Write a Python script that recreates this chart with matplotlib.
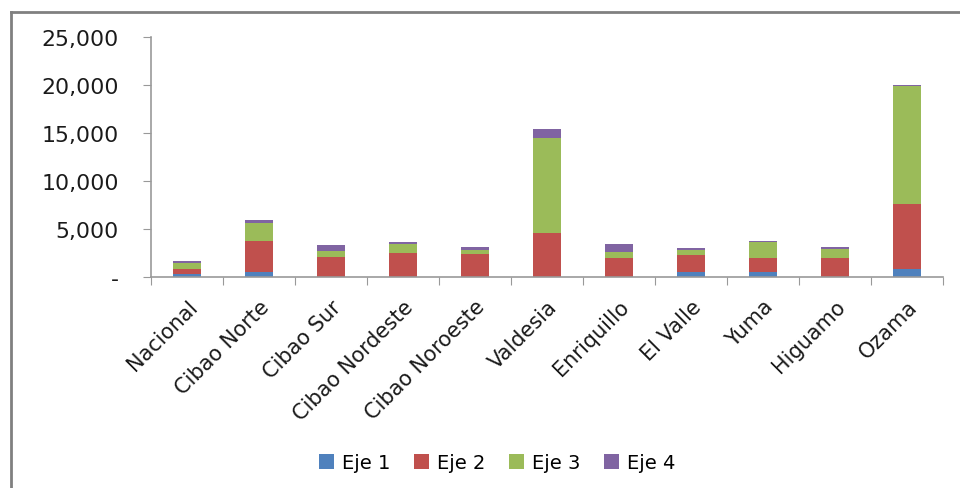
import matplotlib
matplotlib.use("Agg")
import matplotlib.pyplot as plt
from matplotlib.lines import Line2D
from matplotlib.ticker import FuncFormatter, FixedLocator
from matplotlib.transforms import ScaledTranslation
import numpy as np

categories = ["Nacional", "Cibao Norte", "Cibao Sur", "Cibao Nordeste", "Cibao Noroeste",
              "Valdesia", "Enriquillo", "El Valle", "Yuma", "Higuamo", "Ozama"]
eje1 = [250, 450, 0, 0, 0, 0, 0, 450, 450, 0, 830]
eje2 = [550, 3270, 2050, 2500, 2370, 4520, 1950, 1840, 1500, 1950, 6720]
eje3 = [650, 1910, 660, 940, 450, 9990, 660, 520, 1670, 970, 12320]
eje4 = [150, 250, 560, 170, 310, 900, 770, 140, 140, 140, 140]
series_names = ["Eje 1", "Eje 2", "Eje 3", "Eje 4"]
colors = ["#4F81BD", "#C0504D", "#9BBB59", "#8064A2"]
yticks = [0, 5000, 10000, 15000, 20000, 25000]

fig = plt.figure(figsize=(9.6, 4.89), dpi=100)
ax = fig.add_axes([151/960, 1-277.7/489, (943-151)/960, (277.7-38.3)/489])

x = np.arange(len(categories))
bottom = np.zeros(len(categories))
handles = []
for name, vals, c in zip(series_names, [eje1, eje2, eje3, eje4], colors):
    b = ax.bar(x, vals, width=0.39, bottom=bottom, color=c, label=name, zorder=2)
    handles.append(b)
    bottom += np.array(vals)

ax.set_xlim(-0.5, len(categories) - 0.5)
ax.set_ylim(0, 25000)
ax.set_yticks(yticks)
ax.yaxis.set_major_formatter(FuncFormatter(lambda v, p: "-" if v == 0 else f"{int(v):,}"))

major = np.arange(-0.5, len(categories), 1.0)
ax.xaxis.set_major_locator(FixedLocator(major))
ax.set_xticklabels([""] * len(major))
ax.set_xticks(x, minor=True)
labels = ax.set_xticklabels(categories, minor=True, rotation=45, ha="right",
                            rotation_mode="anchor", fontsize=15, color="#1a1a1a")
offset = ScaledTranslation(-8/100, -8/100, fig.dpi_scale_trans)
for lab in labels:
    lab.set_transform(lab.get_transform() + offset)
ax.tick_params(axis="x", which="minor", length=0, pad=14)
ax.tick_params(axis="x", which="major", length=6, color="#999999", direction="out")
ax.tick_params(axis="y", length=6, color="#999999", labelsize=15.8, labelcolor="#1a1a1a", pad=17)

for s in ["top", "right"]:
    ax.spines[s].set_visible(False)
for s in ["left", "bottom"]:
    ax.spines[s].set_color("#999999")
    ax.spines[s].set_linewidth(1.2)

# outer chart border (top and left)
fig.add_artist(Line2D([10.5/960, 10.5/960], [0, 1-13/489], transform=fig.transFigure,
                      color="#808080", linewidth=2))
fig.add_artist(Line2D([10.5/960, 1], [1-13/489, 1-13/489], transform=fig.transFigure,
                      color="#808080", linewidth=2))

fig.legend(handles=handles, labels=series_names, loc="center", ncol=4,
           bbox_to_anchor=(497/960, 1-464/489), frameon=False, fontsize=14,
           handlelength=0.8, handleheight=0.8, handletextpad=0.4, columnspacing=1.2)

fig.savefig("out.png", dpi=100)
